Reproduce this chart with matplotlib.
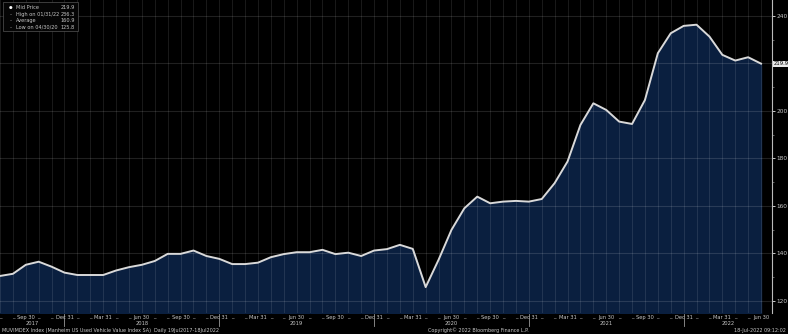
import matplotlib.pyplot as plt
import pandas as pd

# Manheim US Used Vehicle Value Index, monthly, Jul 2017 - Jun 2022
months = pd.date_range('2017-07-31', '2022-06-30', freq='ME')
values = [130.5, 131.4, 135.2, 136.5, 134.4, 131.9, 130.9, 130.9, 130.9, 132.8,
          134.2, 135.2, 136.8, 139.8, 139.8, 141.2, 138.9, 137.7, 135.5, 135.5,
          136.1, 138.4, 139.7, 140.5, 140.5, 141.5, 139.7, 140.3, 138.9, 141.2,
          141.8, 143.6, 141.9, 125.8, 137.3, 149.9, 159.0, 163.9, 161.1, 161.8,
          162.1, 161.8, 162.9, 169.6, 178.7, 194.1, 203.2, 200.4, 195.5, 194.5,
          204.6, 224.3, 232.7, 235.8, 236.3, 231.3, 223.6, 221.2, 222.6, 219.9]
y_ticks = [120, 140, 160, 180, 200, 220, 240]
y_labels = [120, 140, 160, 180, 200, 240]
legend_rows = [('Mid Price', '219.9'), ('High on 01/31/22', '236.3'),
               ('Average', '160.9'), ('Low on 04/30/20', '125.8')]
quarter_labels = {3: 'Mar 31', 6: 'Jun 30', 9: 'Sep 30', 12: 'Dec 31'}
years = ['2017', '2018', '2019', '2020', '2021', '2022']

BG = '#000000'
FILL = '#0a1f3f'
LINE = '#d9d9d9'
TXT = '#c8c8c8'

fig = plt.figure(figsize=(7.88, 3.34), dpi=100, facecolor=BG)
ax = fig.add_axes([0.0, 21 / 334, 772 / 788, 313 / 334], facecolor=BG)

x = list(range(len(values)))
ax.fill_between(x, values, 100, color=FILL, zorder=1)
ax.plot(x, values, color=LINE, lw=1.4, zorder=3)

ax.set_xlim(0, 59.85)
ax.set_ylim(114.9, 246.7)

# grid
for i in x:
    ax.axvline(i, color='white', alpha=0.10, lw=0.8, zorder=2)
for v in y_ticks:
    ax.axhline(v, color='white', alpha=0.13, lw=0.8, zorder=2)

for s in ['top', 'left', 'bottom']:
    ax.spines[s].set_visible(False)
ax.spines['right'].set_color('#bbbbbb')
ax.spines['right'].set_linewidth(0.8)

ax.yaxis.tick_right()
ax.set_yticks(y_labels)
ax.set_yticks(range(120, 250, 10), minor=True)
ax.tick_params(axis='y', which='major', colors=TXT, labelsize=4.2, length=2, width=0.7, pad=1)
ax.tick_params(axis='y', which='minor', colors='#888888', length=1.5, width=0.5)
ax.set_xticks([])

# last value tag
ax.annotate(f'{values[-1]:.1f}', xy=(1.0, values[-1]), xycoords=('axes fraction', 'data'),
            xytext=(1.5, 0), textcoords='offset points', fontsize=3.8, color='black',
            va='center', ha='left',
            bbox=dict(boxstyle='square,pad=0.12', fc='#e8e8e8', ec='none'))

# x tick labels: quarter labels, dashes for the other months
trans = ax.get_xaxis_transform()
for i, d in enumerate(months):
    if d.month in quarter_labels:
        ax.text(i, -0.006, quarter_labels[d.month], transform=trans, fontsize=3.7,
                color=TXT, ha='center', va='top')
    else:
        ax.text(i, -0.019, '_', transform=trans, fontsize=3.7, color=TXT,
                ha='center', va='bottom', clip_on=False)

# year labels and separators (separator runs through each Dec 31 label)
dec_idx = [i for i, d in enumerate(months) if d.month == 12]
bounds = [0] + dec_idx + [59.85]
for k, yr in enumerate(years):
    ax.text((bounds[k] + bounds[k + 1]) / 2, -0.027, yr, transform=trans,
            fontsize=3.7, color=TXT, ha='center', va='top')
for b in dec_idx:
    ax.plot([b, b], [-0.003, -0.042], transform=trans, color='#999999',
            lw=0.6, clip_on=False)

# footer
fig.text(0.003, 0.003, 'MUVIMDEX Index (Manheim US Used Vehicle Value Index SA)  Daily 19Jul2017-18Jul2022',
         fontsize=3.5, color=TXT, ha='left', va='bottom')
fig.text(0.607, 0.003, 'Copyright\u00a9 2022 Bloomberg Finance L.P.',
         fontsize=3.5, color=TXT, ha='center', va='bottom')
fig.text(0.997, 0.003, '18-Jul-2022 09:12:02', fontsize=3.5, color=TXT,
         ha='right', va='bottom')

# legend box
fig.patches.append(plt.Rectangle((3 / 788, 1 - 31 / 334), 75 / 788, 29 / 334,
                                 transform=fig.transFigure, fc='#050505',
                                 ec='#555555', lw=0.5, zorder=5))
for r, (name, val) in enumerate(legend_rows):
    yy = 1 - (7.5 + r * 6.6) / 334
    mark = '\u25cf' if r == 0 else '\u2013'
    fig.text(11 / 788, yy, mark, fontsize=3, color='white', ha='center', va='center', zorder=6)
    fig.text(16 / 788, yy, name, fontsize=3.6, color=TXT, ha='left', va='center', zorder=6)
    fig.text(75 / 788, yy, val, fontsize=3.6, color=TXT, ha='right', va='center', zorder=6)

fig.savefig('out.png', dpi=100, facecolor=BG)
